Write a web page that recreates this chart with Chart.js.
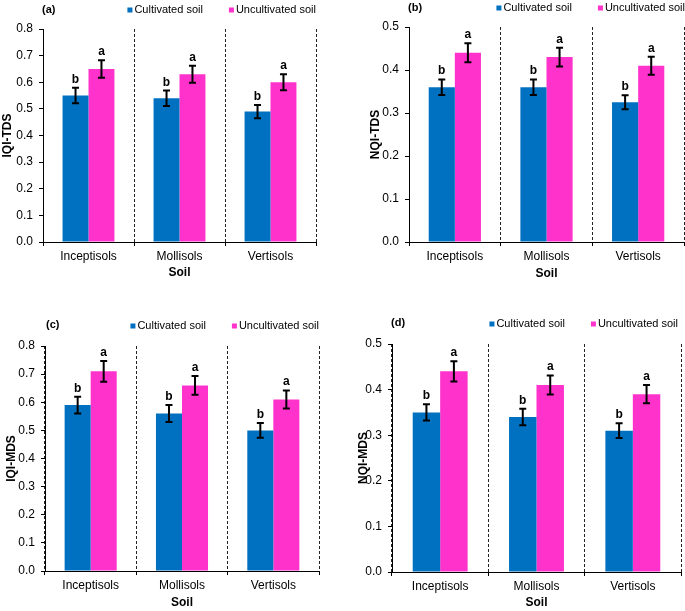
<!DOCTYPE html>
<html>
<head>
<meta charset="utf-8">
<script src="https://cdn.jsdelivr.net/npm/chart.js@4.4.1/dist/chart.umd.min.js"></script>
<style>
  body { margin: 0; background: #fff; }
  #wrap { position: relative; width: 685px; height: 611px; overflow: hidden; }
  .panel { position: absolute; }
</style>
</head>
<body>
<div id="wrap">
  <div class="panel" style="left:0;top:0"><canvas id="chart-a" width="340" height="300"></canvas></div>
  <div class="panel" style="left:340px;top:0"><canvas id="chart-b" width="345" height="300"></canvas></div>
  <div class="panel" style="left:0;top:300px"><canvas id="chart-c" width="340" height="311"></canvas></div>
  <div class="panel" style="left:340px;top:300px"><canvas id="chart-d" width="345" height="311"></canvas></div>
</div>
<script>
// data
const soils = ['Inceptisols', 'Mollisols', 'Vertisols'];
const seriesNames = ['Cultivated soil', 'Uncultivated soil'];
const cultLetters = ['b', 'b', 'b'];
const uncultLetters = ['a', 'a', 'a'];

// (a) IQI-TDS
const iqiTdsCult = [0.55, 0.54, 0.49];
const iqiTdsCultErr = [0.029, 0.029, 0.025];
const iqiTdsUncult = [0.65, 0.63, 0.60];
const iqiTdsUncultErr = [0.033, 0.032, 0.03];

// (b) NQI-TDS
const nqiTdsCult = [0.36, 0.36, 0.325];
const nqiTdsCultErr = [0.018, 0.018, 0.016];
const nqiTdsUncult = [0.44, 0.43, 0.41];
const nqiTdsUncultErr = [0.022, 0.022, 0.021];

// (c) IQI-MDS
const iqiMdsCult = [0.59, 0.56, 0.50];
const iqiMdsCultErr = [0.03, 0.03, 0.026];
const iqiMdsUncult = [0.71, 0.66, 0.61];
const iqiMdsUncultErr = [0.037, 0.033, 0.032];

// (d) NQI-MDS
const nqiMdsCult = [0.35, 0.34, 0.31];
const nqiMdsCultErr = [0.018, 0.018, 0.016];
const nqiMdsUncult = [0.44, 0.41, 0.39];
const nqiMdsUncultErr = [0.022, 0.021, 0.02];

// y axis ranges
const iqiMax = 0.8;
const nqiMax = 0.5;
const tickStep = 0.1;

const blue = '#0070C0';
const pink = '#FF33CC';
const FONT = '"Liberation Sans", Arial, sans-serif';
Chart.defaults.font.family = FONT;
Chart.defaults.color = '#000';

// error bars, letters, legend and panel label
const decor = {
  id: 'decor',
  afterDatasetsDraw(chart) {
    const ctx = chart.ctx;
    const y = chart.scales.y;
    ctx.save();
    ctx.strokeStyle = '#000';
    ctx.fillStyle = '#000';
    ctx.lineWidth = 2;
    ctx.font = 'bold 12px ' + FONT;
    ctx.textAlign = 'center';
    ctx.textBaseline = 'alphabetic';
    chart.data.datasets.forEach((ds, i) => {
      chart.getDatasetMeta(i).data.forEach((bar, j) => {
        const top = y.getPixelForValue(ds.data[j] + ds.errors[j]);
        const bot = y.getPixelForValue(ds.data[j] - ds.errors[j]);
        ctx.beginPath();
        ctx.moveTo(bar.x, top); ctx.lineTo(bar.x, bot);
        ctx.moveTo(bar.x - 3.5, top); ctx.lineTo(bar.x + 3.5, top);
        ctx.moveTo(bar.x - 3.5, bot); ctx.lineTo(bar.x + 3.5, bot);
        ctx.stroke();
        ctx.fillText(ds.letters[j], bar.x, top - 5);
      });
    });
    ctx.restore();
  },
  afterDraw(chart, args, opts) {
    const ctx = chart.ctx;
    ctx.save();
    ctx.textBaseline = 'middle';
    ctx.fillStyle = '#000';
    ctx.font = 'bold 11px ' + FONT;
    ctx.textAlign = 'left';
    ctx.fillText(opts.label, opts.labelX, opts.labelY);

    ctx.font = '11px ' + FONT;
    const box = 5, gap = 2, spacing = 26;
    const items = chart.data.datasets.map(ds => ({ text: ds.label, color: ds.backgroundColor }));
    const widths = items.map(it => box + gap + ctx.measureText(it.text).width);
    let x = opts.legendRight - widths.reduce((a, b) => a + b, 0) - spacing * (items.length - 1);
    items.forEach((it, i) => {
      ctx.fillStyle = it.color;
      ctx.fillRect(x, opts.legendY - box / 2, box, box);
      ctx.fillStyle = '#000';
      ctx.fillText(it.text, x + box + gap, opts.legendY);
      x += widths[i] + spacing;
    });
    ctx.restore();
  }
};

function makeChart(id, p) {
  return new Chart(document.getElementById(id), {
    type: 'bar',
    data: {
      labels: soils,
      datasets: [
        { label: seriesNames[0], data: p.cult, errors: p.cultErr, letters: cultLetters, backgroundColor: blue },
        { label: seriesNames[1], data: p.uncult, errors: p.uncultErr, letters: uncultLetters, backgroundColor: pink }
      ]
    },
    options: {
      responsive: false,
      animation: false,
      datasets: { bar: { categoryPercentage: 0.57, barPercentage: 1 } },
      layout: { padding: p.pad },
      plugins: {
        legend: { display: false },
        tooltip: { enabled: false },
        decor: { label: p.label, labelX: p.labelX, labelY: p.labelY, legendRight: p.legendRight, legendY: p.legendY }
      },
      scales: {
        x: {
          offset: true,
          grid: { offset: true, color: '#222', lineWidth: 1, tickLength: 4, tickColor: '#000', tickBorderDash: [] },
          border: { display: true, color: '#000', width: 1, dash: [3, 2] },
          ticks: { font: { size: 12 }, padding: 3 },
          title: { display: true, text: 'Soil', font: { size: 12, weight: 'bold' }, padding: { top: 0, bottom: 0 } },
          afterFit: s => { s.height = p.xH; }
        },
        y: {
          min: 0,
          max: p.yMax,
          ticks: { stepSize: tickStep, font: { size: 12 }, padding: 6, callback: v => v.toFixed(1) },
          grid: { drawOnChartArea: false, tickLength: 4, color: '#000' },
          border: { display: true, color: '#000', width: 1 },
          title: { display: true, text: p.yTitle, font: { size: 12, weight: 'bold' }, padding: { top: 0, bottom: 0 } },
          afterFit: s => { s.width = p.yW; }
        }
      }
    },
    plugins: [decor]
  });
}

makeChart('chart-a', {
  cult: iqiTdsCult, cultErr: iqiTdsCultErr, uncult: iqiTdsUncult, uncultErr: iqiTdsUncultErr,
  yMax: iqiMax, yTitle: 'IQI-TDS', label: '(a)',
  pad: { left: 0, right: 24, top: 29, bottom: 20 }, yW: 43, xH: 38,
  labelX: 42, labelY: 10, legendRight: 316, legendY: 10
});

makeChart('chart-b', {
  cult: nqiTdsCult, cultErr: nqiTdsCultErr, uncult: nqiTdsUncult, uncultErr: nqiTdsUncultErr,
  yMax: nqiMax, yTitle: 'NQI-TDS', label: '(b)',
  pad: { left: 28, right: 1, top: 27, bottom: 19 }, yW: 41, xH: 39,
  labelX: 68, labelY: 8, legendRight: 345, legendY: 8
});

makeChart('chart-c', {
  cult: iqiMdsCult, cultErr: iqiMdsCultErr, uncult: iqiMdsUncult, uncultErr: iqiMdsUncultErr,
  yMax: iqiMax, yTitle: 'IQI-MDS', label: '(c)',
  pad: { left: 4, right: 21, top: 46, bottom: 1 }, yW: 41, xH: 39,
  labelX: 46, labelY: 25, legendRight: 319, legendY: 26
});

makeChart('chart-d', {
  cult: nqiMdsCult, cultErr: nqiMdsCultErr, uncult: nqiMdsUncult, uncultErr: nqiMdsUncultErr,
  yMax: nqiMax, yTitle: 'NQI-MDS', label: '(d)',
  pad: { left: 16, right: 4, top: 44, bottom: 1 }, yW: 36, xH: 38,
  labelX: 51, labelY: 23, legendRight: 338, legendY: 24
});
</script>
</body>
</html>
